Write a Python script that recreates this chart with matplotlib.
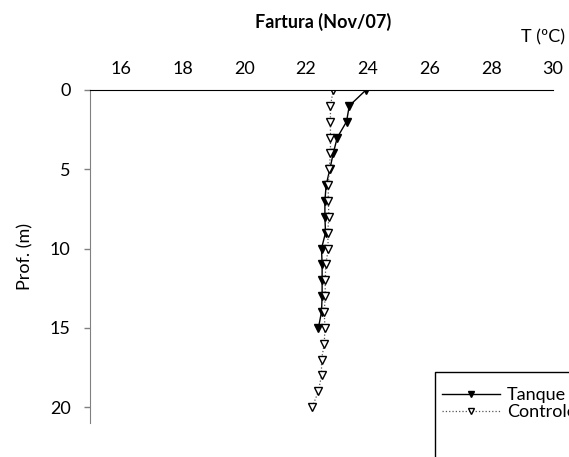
import matplotlib.pyplot as plt
from matplotlib.lines import Line2D

plt.rcParams['font.family'] = ['Lato', 'DejaVu Sans']

# depth (m) and temperature (ºC)
depth_tanque = [0, 1, 2, 3, 4, 5, 6, 7, 8, 9, 10, 11, 12, 13, 14, 15]
temp_tanque = [23.94, 23.40, 23.31, 23.01, 22.88, 22.77, 22.65, 22.61, 22.61, 22.63,
               22.50, 22.52, 22.52, 22.52, 22.50, 22.40]
depth_controle = [0, 1, 2, 3, 4, 5, 6, 7, 8, 9, 10, 11, 12, 13, 14, 15, 16, 17, 18, 19, 20]
temp_controle = [22.88, 22.79, 22.79, 22.79, 22.79, 22.75, 22.72, 22.72, 22.74, 22.70,
                 22.72, 22.64, 22.62, 22.62, 22.59, 22.61, 22.59, 22.50, 22.50, 22.40, 22.20]
xticks = [16, 18, 20, 22, 24, 26, 28, 30]
yticks = [0, 5, 10, 15, 20]

W, H = 569, 457
fs = 13
fig = plt.figure(figsize=(W / 100, H / 100), dpi=100)
ax = fig.add_axes([90 / W, 1 - 423 / H, (553 - 90) / W, (423 - 90) / H])

ax.plot(temp_tanque, depth_tanque, color='black', lw=1.0, marker='v',
        markersize=6, markerfacecolor='black', markeredgecolor='black', label='Tanque')
ax.plot(temp_controle, depth_controle, color='#555555', lw=0.9, ls=':', marker='v',
        markersize=6, markerfacecolor='white', markeredgecolor='black', label='Controle')

ax.set_xlim(15, 30)
ax.set_ylim(21, 0)
ax.xaxis.tick_top()
ax.set_xticks(xticks)
ax.set_yticks(yticks)
ax.tick_params(axis='x', length=0, labelsize=fs, pad=9)
ax.tick_params(axis='y', length=4, width=1, color='#808080', labelsize=fs, pad=10)
ax.spines['right'].set_visible(False)
ax.spines['bottom'].set_visible(False)
ax.spines['top'].set_color('black')
ax.spines['left'].set_color('#808080')

ax.set_ylabel('Prof. (m)', fontsize=fs, labelpad=12)
fig.text(323 / W, 1 - 22 / H, 'Fartura (Nov/07)', fontsize=fs, fontweight='bold',
         ha='center', va='center')
fig.text(543 / W, 1 - 37 / H, 'T (ºC)', fontsize=fs, ha='center', va='center')

# legend box runs past the bottom/right edge, as in the original: only its
# left and top sides are visible
top = 1 - 372 / H
x0 = 435 / W
fig.add_artist(Line2D([x0, x0, 1.0], [0.0, top, top], transform=fig.transFigure,
                      color='black', lw=1.0, solid_capstyle='butt'))
leg = fig.legend(loc='upper left', bbox_to_anchor=(x0, 1 - 380 / H),
                 fontsize=fs, frameon=False, borderpad=0.4, markerscale=0.75,
                 handlelength=3.2, handletextpad=0.4, labelspacing=0.05,
                 borderaxespad=0)

fig.savefig('out.png', dpi=100)
